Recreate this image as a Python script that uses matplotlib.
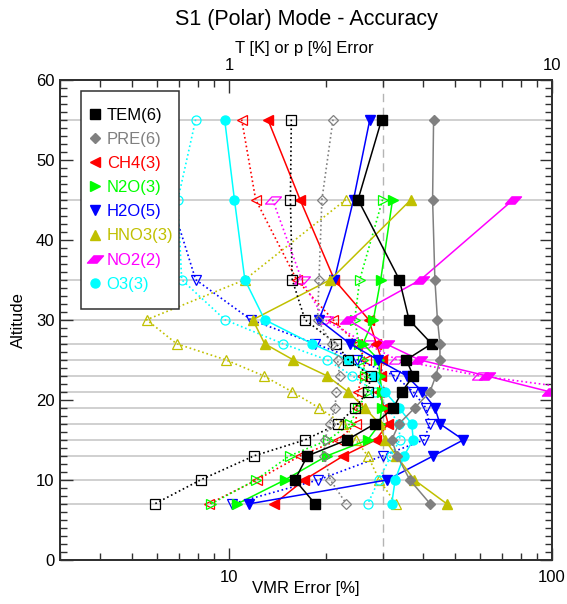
import numpy as np
import matplotlib
matplotlib.use('Agg')
import matplotlib.pyplot as plt
from matplotlib.lines import Line2D
from matplotlib.path import Path
from matplotlib.patches import Rectangle
from matplotlib.ticker import FixedLocator, FixedFormatter, NullFormatter, MultipleLocator

plt.rcParams['font.family'] = ['Liberation Sans', 'DejaVu Sans']

nan = np.nan

# retrieval levels [km]
alt = [55, 45, 35, 30, 27, 25, 23, 21, 19, 17, 15, 13, 10, 7]

# temperature [K] and pressure [%] errors (top axis)
tem_fill = [2.97, 2.51, 3.37, 3.61, 4.24, 3.54, 3.72, 3.43, 3.23, 2.83, 2.32, 1.75, 1.60, 1.85]
tem_open = [1.56, 1.55, 1.57, 1.72, 2.15, 2.34, 2.75, 2.69, 2.45, 2.18, 1.72, 1.195, 0.817, 0.589]
pre_fill = [4.30, 4.27, 4.34, 4.42, 4.50, 4.50, 4.37, 4.19, 3.76, 3.36, 3.19, 3.32, 3.63, 4.20]
pre_open = [2.10, 1.94, 1.90, 1.88, 2.08, 2.17, 2.20, 2.15, 2.13, 2.05, 1.98, 1.97, 2.06, 2.31]

# VMR errors [%] (bottom axis)
ch4_fill = [13.2, 16.6, 21.2, 27.1, 28.6, 29.7, 29.5, 29.2, 30.2, 31.1, 28.5, 22.6, 17.1, 13.8]
ch4_open = [10.95, 12.1, 16.2, 21.0, 24.9, 26.5, 25.8, 25.1, 24.9, 24.7, 21.8, 16.6, 12.2, 8.67]
n2o_fill = [nan, 32.1, 29.5, 28.0, 26.0, 29.1, 29.3, 29.8, 29.7, 29.3, 26.9, 20.1, 14.9, 10.6]
n2o_open = [nan, 29.9, 25.4, 24.5, 25.3, 26.0, 26.3, 26.9, 25.1, 23.7, 20.3, 15.4, 12.1, 8.8]
h2o_fill = [27.3, 24.3, 21.2, 19.0, 23.7, 28.9, 35.5, 39.7, 43.4, 45.0, 53.2, 42.9, 30.9, 11.5]
h2o_open = [nan, 6.6, 7.89, 11.7, 18.5, 25.0, 32.6, 37.2, 40.7, 41.8, 40.2, 29.9, 18.9, 10.2]
hno3_fill = [nan, 36.6, 20.6, 11.85, 12.9, 15.8, 20.1, 23.4, 26.3, 29.3, 30.4, 33.0, 37.5, 47.3]
hno3_open = [nan, 23.0, 11.2, 5.56, 6.89, 9.77, 12.8, 15.7, 19.0, 22.5, 24.7, 26.9, 29.2, 32.9]
no2_fill = [nan, 75.9, 39.2, 23.4, 30.6, 38.8, 62.7, 98.5, nan, nan, nan, nan, nan, nan]
no2_open = [nan, 13.65, 16.8, 19.8, 26.7, 33.1, 59.8, 140.0, nan, nan, nan, nan, nan, nan]
o3_fill = [9.7, 10.4, 11.2, 12.9, 18.1, 23.3, 28.1, 30.4, 33.6, 36.8, 37.2, 34.8, 32.7, 31.9]
o3_open = [7.89, 6.95, 7.14, 9.72, 14.7, 20.1, 24.1, 28.3, 31.0, 33.6, 33.8, 31.7, 29.1, 26.9]

labels = ['TEM(6)', 'PRE(6)', 'CH4(3)', 'N2O(3)', 'H2O(5)', 'HNO3(3)', 'NO2(2)', 'O3(3)']
colors = ['black', '#808080', '#ff0000', '#00ff00', '#0000ff', '#c0c000', '#ff00ff', '#00ffff']

# slanted parallelogram for NO2
para = Path([(-1, -0.45), (0.2, -0.45), (1, 0.45), (-0.2, 0.45), (-1, -0.45)],
            [Path.MOVETO, Path.LINETO, Path.LINETO, Path.LINETO, Path.CLOSEPOLY])
markers = ['s', 'D', '<', '>', 'v', '^', para, 'o']
sizes = [6.8, 5.6, 7, 7, 7, 7, 11.5, 6.5]

fig = plt.figure(figsize=(5.67, 6.04), dpi=100)
ax = fig.add_axes([60/567, 44/604, 492/567, 480.5/604])
ax.set_xscale('log')
ax.set_xlim(3, 100)
ax.set_ylim(0, 60)
ax2 = ax.twiny()
ax2.set_xscale('log')
ax2.set_xlim(0.3, 10)

for a in alt:
    ax.axhline(a, color='#c8c8c8', lw=1.2, zorder=0)
ax.axvline(30, color='#b4b4b4', lw=1, dashes=(6, 4), zorder=0.5)


def profile(axis, vals, i, filled):
    if filled:
        axis.plot(vals, alt, color=colors[i], lw=1.1, ls='-', marker=markers[i],
                  ms=sizes[i], mfc=colors[i], mec=colors[i])
    else:
        axis.plot(vals, alt, color=colors[i], lw=1.2, ls=':', marker=markers[i],
                  ms=sizes[i], mfc='none', mec=colors[i], mew=0.9)


vmr = [(ch4_fill, ch4_open), (n2o_fill, n2o_open), (h2o_fill, h2o_open),
       (hno3_fill, hno3_open), (no2_fill, no2_open), (o3_fill, o3_open)]
for k, (f, o) in enumerate(vmr):
    profile(ax, o, k + 2, False)
for k, (f, o) in enumerate(vmr):
    profile(ax, f, k + 2, True)

profile(ax2, tem_open, 0, False)
profile(ax2, pre_open, 1, False)
profile(ax2, tem_fill, 0, True)
profile(ax2, pre_fill, 1, True)

# axes and ticks
ax.xaxis.set_major_locator(FixedLocator([10, 100]))
ax.xaxis.set_major_formatter(FixedFormatter(['10', '100']))
ax.xaxis.set_minor_locator(FixedLocator([3, 4, 5, 6, 7, 8, 9, 20, 30, 40, 50, 60, 70, 80, 90]))
ax.xaxis.set_minor_formatter(NullFormatter())
ax.set_yticks(range(0, 61, 10))
ax.yaxis.set_minor_locator(MultipleLocator(1))

ax2.xaxis.set_major_locator(FixedLocator([1, 10]))
ax2.xaxis.set_major_formatter(FixedFormatter(['1', '10']))
ax2.xaxis.set_minor_locator(FixedLocator([0.3, 0.4, 0.5, 0.6, 0.7, 0.8, 0.9, 2, 3, 4, 5, 6, 7, 8, 9]))
ax2.xaxis.set_minor_formatter(NullFormatter())

for a_ in (ax, ax2):
    a_.tick_params(which='both', direction='in', labelsize=12, color='#303030', width=1)
    a_.tick_params(which='major', length=9)
    a_.tick_params(which='minor', length=5)
    for s in a_.spines.values():
        s.set_color('#303030')
        s.set_linewidth(1.3)
ax.tick_params(axis='y', which='both', right=True, labelright=False, pad=4)
ax.tick_params(axis='x', pad=7)
ax2.tick_params(axis='x', pad=5)

fig.text(306/567, 1 - 19/604, 'S1 (Polar) Mode - Accuracy', ha='center', va='center', fontsize=15.5)
fig.text(304/567, 1 - 49/604, 'T [K] or p [%] Error', ha='center', va='center', fontsize=12)
fig.text(306/567, 1 - 589/604, 'VMR Error [%]', ha='center', va='center', fontsize=12)
fig.text(18/567, 1 - 320/604, 'Altitude', ha='center', va='center', rotation=90, fontsize=12)

# legend box
rect = Rectangle((81/567, 1 - 309/604), 98/567, 218.3/604, transform=fig.transFigure,
                 facecolor='white', edgecolor='#303030', lw=1.1, zorder=4)
fig.add_artist(rect)
handles = [Line2D([], [], ls='none', marker=markers[i], ms=sizes[i], color=colors[i])
           for i in range(len(labels))]
leg = fig.legend(handles, labels, loc='upper left', bbox_to_anchor=(88/567, 1 - 107.5/604),
                 bbox_transform=fig.transFigure, frameon=False, fontsize=12,
                 handlelength=0.8, handletextpad=0.32, labelspacing=0.55,
                 borderpad=0, borderaxespad=0, labelcolor=colors)
leg.set_zorder(5)

fig.savefig('out.png', dpi=100)
